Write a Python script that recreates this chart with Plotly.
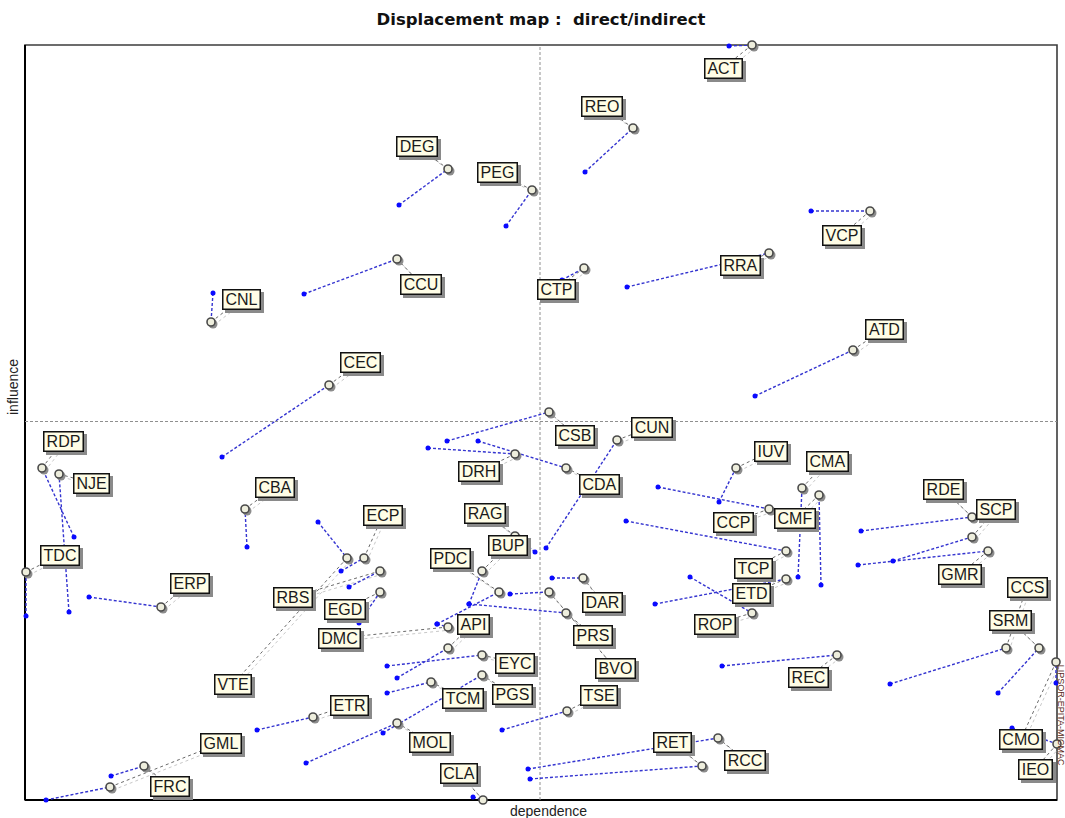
import plotly.graph_objects as go

# Variables of the structural analysis (MICMAC), direct vs indirect positions
names = ["ACT", "REO", "DEG", "PEG", "VCP", "RRA", "CCU", "CNL", "CTP", "ATD",
         "CEC", "CSB", "CUN", "DRH", "CDA", "RDP", "NJE", "CBA", "IUV", "CMA",
         "RDE", "SCP", "ECP", "RAG", "BUP", "CCP", "CMF", "TDC", "PDC", "DAR",
         "TCP", "GMR", "ERP", "RBS", "EGD", "ETD", "CCS", "ROP", "API", "PRS",
         "SRM", "DMC", "EYC", "BVO", "REC", "VTE", "PGS", "TSE", "ETR", "TCM",
         "MOL", "GML", "RET", "RCC", "CMO", "CLA", "IEO", "FRC"]

# direct classification (dependence, influence)
direct_dep = [704, 560, 374, 481, 786, 602, 279, 188, 537, 730,
              197, 422, 521, 403, 453, 49, 44, 222, 694, 773,
              836, 868, 316, 510, 444, 633, 796, 1, 412, 527,
              601, 833, 64, 324, 334, 630, 865, 665, 372, 444,
              973, 412, 362, 485, 697, 293, 358, 477, 232, 362,
              281, 21, 505, 503, 1031, 448, 987, 86]
direct_inf = [754, 628, 595, 574, 589, 513, 506, 507, 520, 404,
              343, 359, 252, 352, 359, 263, 188, 253, 298, 223,
              269, 239, 229, 248, 196, 313, 215, 184, 176, 222,
              279, 235, 203, 213, 177, 196, 116, 223, 122, 196,
              107, 176, 134, 206, 134, 278, 67, 70, 70, 107,
              37, 0, 21, 31, 117, 3, 72, 24]

# indirect classification (dependence, influence)
indirect_dep = [727, 608, 423, 507, 845, 744, 372, 186, 559, 828,
                304, 524, 592, 490, 541, 17, 34, 220, 711, 777,
                947, 947, 339, 490, 457, 744, 794, 1, 474, 558,
                761, 963, 136, 355, 355, 761, 981, 727, 423, 541,
                1014, 423, 457, 524, 812, 322, 457, 542, 288, 406,
                372, 85, 677, 693, 1031, 458, 1032, 119]
indirect_inf = [755, 672, 631, 610, 589, 547, 541, 478, 532, 450,
                415, 388, 360, 346, 332, 332, 326, 291, 332, 312,
                283, 263, 242, 264, 229, 291, 305, 228, 208, 222,
                249, 249, 193, 229, 208, 221, 152, 187, 152, 187,
                152, 173, 145, 208, 145, 242, 125, 89, 83, 118,
                77, 13, 34, 62, 138, 0, 56, 34]

# label box centres (placement of the tags on the map)
label_at = {
    "ACT": (698, 732), "REO": (577, 694), "DEG": (392, 654), "PEG": (472, 628),
    "VCP": (817, 565), "RRA": (715, 535), "CCU": (396, 516), "CNL": (216, 501),
    "CTP": (531, 511), "ATD": (859, 471), "CEC": (335, 438), "CSB": (550, 365),
    "CUN": (627, 373), "DRH": (454, 329), "CDA": (574, 316), "RDP": (38, 359),
    "NJE": (66, 317), "CBA": (250, 313), "IUV": (746, 349), "CMA": (802, 339),
    "RDE": (918, 311), "SCP": (971, 291), "ECP": (358, 285), "RAG": (460, 287),
    "BUP": (483, 255), "CCP": (708, 278), "CMF": (770, 282), "TDC": (35, 245),
    "PDC": (425, 242), "DAR": (577, 198), "TCP": (728, 232), "GMR": (935, 226),
    "ERP": (165, 217), "RBS": (268, 203), "EGD": (320, 191), "ETD": (726, 207),
    "CCS": (1002, 213), "ROP": (690, 176), "API": (448, 176), "PRS": (568, 165),
    "SRM": (985, 180), "DMC": (314, 162), "EYC": (490, 137), "BVO": (590, 132),
    "REC": (783, 123), "VTE": (208, 116), "PGS": (487, 106), "TSE": (574, 105),
    "ETR": (324, 95), "TCM": (438, 102), "MOL": (405, 58), "GML": (196, 57),
    "RET": (647, 58), "RCC": (720, 40), "CMO": (996, 61), "CLA": (434, 27),
    "IEO": (1010, 31), "FRC": (145, 14),
}

X_MAX, Y_MAX = 1032, 755
SHADOW = 3
TAG_FONT = 16

# advance widths (em) of the capitals used in the tags
CAP_W = {"A": .667, "B": .667, "C": .722, "D": .722, "E": .667, "F": .611,
         "G": .778, "H": .722, "I": .278, "J": .5, "K": .667, "L": .556,
         "M": .833, "N": .722, "O": .778, "P": .667, "Q": .778, "R": .722,
         "S": .667, "T": .611, "U": .722, "V": .667, "W": .944, "X": .667,
         "Y": .667, "Z": .611}


def tag_width(s):
    return round(sum(CAP_W.get(c, .667) for c in s) * TAG_FONT) + 1


fig = go.Figure()


def segments(x0, y0, x1, y1, dx=0, dy=0):
    xs, ys = [], []
    for a, b, c, d in zip(x0, y0, x1, y1):
        xs += [a + dx, c + dx, None]
        ys += [b + dy, d + dy, None]
    return xs, ys


lab_x = [label_at[n][0] for n in names]
lab_y = [label_at[n][1] for n in names]

# leader lines from the indirect position to its tag (with soft shadow)
sx, sy = segments(indirect_dep, indirect_inf, lab_x, lab_y, SHADOW, -SHADOW)
fig.add_trace(go.Scatter(x=sx, y=sy, mode="lines", hoverinfo="skip",
                         line=dict(color="#c8c8c8", width=1, dash="dot")))
lx, ly = segments(indirect_dep, indirect_inf, lab_x, lab_y)
fig.add_trace(go.Scatter(x=lx, y=ly, mode="lines", hoverinfo="skip",
                         line=dict(color="#6a6a6a", width=1, dash="dot")))

# displacement direct -> indirect
mx, my = segments(direct_dep, direct_inf, indirect_dep, indirect_inf)
fig.add_trace(go.Scatter(x=mx, y=my, mode="lines", hoverinfo="skip",
                         line=dict(color="#3434d0", width=1.4,
                                   dash="3px,2px")))

# direct positions
fig.add_trace(go.Scatter(x=direct_dep, y=direct_inf, mode="markers", text=names,
                         marker=dict(size=5, color="#0a0aff"), cliponaxis=False))

# indirect positions (ring with shadow)
fig.add_trace(go.Scatter(x=[v + 2 for v in indirect_dep],
                         y=[v - 2 for v in indirect_inf], mode="markers",
                         hoverinfo="skip", cliponaxis=False,
                         marker=dict(size=9, color="#8c8c8c",
                                     line=dict(width=0))))
fig.add_trace(go.Scatter(x=indirect_dep, y=indirect_inf, mode="markers",
                         text=names, cliponaxis=False,
                         marker=dict(size=8, color="#eeeedd",
                                     line=dict(color="#4a4a4a", width=1.6))))

# tags: drop shadow box first, then the boxed label
for n, x, y in zip(names, lab_x, lab_y):
    fig.add_annotation(x=x, y=y, text=" ", showarrow=False, xshift=3, yshift=-3,
                       width=tag_width(n), height=15,
                       font=dict(size=TAG_FONT),
                       bgcolor="#8a8a8a", bordercolor="#8a8a8a",
                       borderwidth=1.5, borderpad=1.5)
for n, x, y in zip(names, lab_x, lab_y):
    fig.add_annotation(x=x, y=y, text=n, showarrow=False,
                       width=tag_width(n), height=15,
                       font=dict(family="Liberation Sans, Arial", size=TAG_FONT,
                                 color="#1a1a1a"),
                       bgcolor="#fffde6", bordercolor="#111111",
                       borderwidth=1.5, borderpad=1.5)

# quadrant separators
fig.add_shape(type="line", x0=X_MAX / 2 - 1, x1=X_MAX / 2 - 1, y0=0, y1=Y_MAX,
              line=dict(color="#8f8f8f", width=1, dash="3px,2px"),
              layer="below")
fig.add_shape(type="line", x0=0, x1=X_MAX, y0=Y_MAX / 2 + 1, y1=Y_MAX / 2 + 1,
              line=dict(color="#8f8f8f", width=1, dash="3px,2px"),
              layer="below")

# frame (kept under the markers)
fig.add_shape(type="rect", xref="paper", yref="paper", x0=0, x1=1, y0=0, y1=1,
              line=dict(color="#3c3c3c", width=1.6), layer="below")
fig.add_shape(type="line", xref="paper", yref="paper", x0=0, x1=0, y0=0, y1=1,
              line=dict(color="#000000", width=2), layer="below")
fig.add_shape(type="line", xref="paper", yref="paper", x0=0, x1=1, y0=0, y1=0,
              line=dict(color="#000000", width=2), layer="below")

# axis names and signature
fig.add_annotation(xref="paper", yref="paper", x=0.5077, y=0, yanchor="top",
                   yshift=-1, text="dependence", showarrow=False,
                   font=dict(family="Liberation Sans, Arial", size=14,
                             color="#222222"))
fig.add_annotation(xref="paper", yref="paper", x=0, xanchor="right", xshift=-2,
                   y=0.547, text="influence", showarrow=False, textangle=-90,
                   font=dict(family="Liberation Sans, Arial", size=14,
                             color="#222222"))
fig.add_annotation(xref="paper", yref="paper", x=1, xanchor="left", xshift=-3,
                   y=0.113, yanchor="middle", text="LIPSOR-EPITA-MICMAC",
                   showarrow=False, textangle=90,
                   font=dict(family="Liberation Sans, Arial", size=9,
                             color="#5a2a1a"))

fig.update_layout(
    width=1065, height=818,
    margin=dict(l=25, r=8, t=45, b=18),
    paper_bgcolor="white", plot_bgcolor="white",
    showlegend=False,
    title=dict(text="Displacement map :\u00a0 direct/indirect",
               xref="paper", x=0.5, xanchor="center",
               y=0.976, yanchor="middle",
               font=dict(family="DejaVu Sans", size=16.5,
                         color="#111111", weight="bold")),
    xaxis=dict(range=[0, X_MAX], showgrid=False, zeroline=False,
               showticklabels=False, ticks="", fixedrange=True),
    yaxis=dict(range=[0, Y_MAX], showgrid=False, zeroline=False,
               showticklabels=False, ticks="", fixedrange=True),
)

fig.write_html("out.html")
